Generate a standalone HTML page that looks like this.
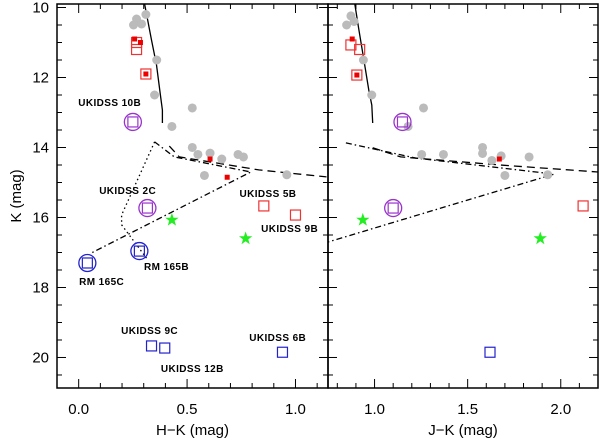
<!DOCTYPE html>
<html><head><meta charset="utf-8"><style>
body{margin:0;background:#fff}
svg text{font-family:"Liberation Sans",sans-serif}
</style></head><body>
<svg id="c" width="600" height="439" viewBox="0 0 600 439"></svg>
<script>
// ---- data: left panel (H-K vs K) ----
const hkGreyX=[0.267,0.253,0.29,0.31,0.36,0.35,0.524,0.43,0.524,0.55,0.606,0.66,0.735,0.76,0.58,0.96];
const hkGreyK=[10.33,10.5,10.47,10.2,11.5,12.5,12.87,13.4,14.0,14.2,14.16,14.33,14.2,14.27,14.8,14.78];
const hkRedSqX=[0.267,0.267,0.31,0.854,1.0];
const hkRedSqK=[11.0,11.2,11.9,15.67,15.93];
const hkRedDotX=[0.258,0.285,0.31,0.606,0.685];
const hkRedDotK=[10.9,11.0,11.9,14.33,14.85];
const hkPurX=[0.25,0.317];const hkPurK=[13.27,15.73];
const hkGreenX=[0.43,0.77];const hkGreenK=[16.07,16.6];
const hkBlueCircX=[0.04,0.28];const hkBlueCircK=[17.3,16.96];
const hkBlueSqX=[0.336,0.397,0.94];const hkBlueSqK=[19.67,19.73,19.85];
const hkSolidX=[0.304,0.336,0.359,0.377,0.386,0.386];const hkSolidK=[9.9,10.93,11.64,12.5,12.93,13.3];
const hkDashDotX=[0.35,0.441,0.794,0.06];const hkDashDotK=[13.84,14.27,14.7,17.01];
const hkDashX=[0.418,0.464,0.831,1.143];const hkDashK=[13.96,14.27,14.64,14.84];
const hkDotX=[0.35,0.198,0.198,0.313];const hkDotK=[13.84,15.93,16.21,17.16];
// ---- data: right panel (J-K vs K) ----
const jkGreyX=[0.873,0.85,0.89,0.94,0.985,1.263,1.18,1.253,1.37,1.58,1.58,1.63,1.68,1.83,1.70,1.93];
const jkGreyK=[10.24,10.5,10.4,11.5,12.5,12.87,13.4,14.2,14.2,14.0,14.17,14.37,14.24,14.27,14.8,14.78];
const jkRedSqX=[0.873,0.92,0.905,2.12];const jkRedSqK=[11.07,11.2,11.93,15.67];
const jkRedDotX=[0.88,0.905,1.67];const jkRedDotK=[10.9,11.93,14.33];
const jkPurX=[1.15,1.10];const jkPurK=[13.27,15.73];
const jkGreenX=[0.937,1.89];const jkGreenK=[16.07,16.6];
const jkBlueSqX=[1.62];const jkBlueSqK=[19.85];
const jkSolidX=[0.894,0.916,0.943,0.969,0.985,0.99];const jkSolidK=[9.9,10.64,11.5,12.36,12.79,13.3];
const jkDashX=[0.99,1.14,1.675,2.2];const jkDashK=[14.01,14.27,14.5,14.7];
const jkDashDotX=[0.846,1.22,1.964,0.75];const jkDashDotK=[13.87,14.3,14.76,16.7];
const xTicksL=[0.0,0.5,1.0];const xTickLabelsL=["0.0","0.5","1.0"];
const xTicksR=[1.0,1.5,2.0];const xTickLabelsR=["1.0","1.5","2.0"];
const yTicks=[10,12,14,16,18,20];const yTickLabels=["10","12","14","16","18","20"];
const labels=[["UKIDSS 10B",0.143,12.81],["UKIDSS 2C",0.226,15.33],["UKIDSS 5B",0.873,15.41],["UKIDSS 9B",0.973,16.41],["RM 165B",0.405,17.5],["RM 165C",0.106,17.93],["UKIDSS 9C",0.327,19.33],["UKIDSS 12B",0.524,20.41],["UKIDSS 6B",0.918,19.53]];

const NS="http://www.w3.org/2000/svg";const svg=document.getElementById('c');
function mk(t,a,p){const e=document.createElementNS(NS,t);for(const k in a)e.setAttribute(k,a[k]);(p||svg).appendChild(e);return e;}
const Y0=4,Y1=388,KMIN=9.9,KMAX=20.872;
function ys(k){return Y0+(k-KMIN)/(KMAX-KMIN)*(Y1-Y0);}
function panel(x0,x1,xmin,xmax,name){
  const xs=v=>x0+(v-xmin)/(xmax-xmin)*(x1-x0);
  const g=mk('g',{});
  return {g,xs};
}
const L=panel(57,328,-0.1,1.15,'left-panel');
const R=panel(328,598,0.75,2.2,'right-panel');
function line(P,X,K,dash,name){
  const d=X.map((v,i)=>(i?'L':'M')+P.xs(v).toFixed(1)+' '+ys(K[i]).toFixed(1)).join('');
  const e=mk('path',{d,fill:'none',stroke:'#000','stroke-width':1.3,'stroke-dasharray':dash||'none'},P.g);
  
}
function grey(P,X,K,n){X.forEach((v,i)=>{const e=mk('circle',{cx:P.xs(v),cy:ys(K[i]),r:4.5,fill:'#bbb'},P.g);});}
function sq(P,X,K,col,n,s){X.forEach((v,i)=>{const e=mk('rect',{x:P.xs(v)-(s||5),y:ys(K[i])-(s||5),width:2*(s||5),height:2*(s||5),fill:'none',stroke:col,'stroke-width':1.2},P.g);});}
function dot(P,X,K,n){X.forEach((v,i)=>{const e=mk('rect',{x:P.xs(v)-2.5,y:ys(K[i])-2.5,width:5,height:5,fill:'#e00'},P.g);});}
function circ(P,X,K,col,n){X.forEach((v,i)=>{const e=mk('circle',{cx:P.xs(v),cy:ys(K[i]),r:8.5,fill:'none',stroke:col,'stroke-width':1.3},P.g);});sq(P,X,K,col,n+'-square',5);}
function star(P,X,K,n){X.forEach((v,i)=>{const cx=P.xs(v),cy=ys(K[i]);let pts=[];for(let j=0;j<10;j++){const r=j%2?2.8:7,a=-Math.PI/2+j*Math.PI/5;pts.push((cx+r*Math.cos(a)).toFixed(1)+','+(cy+r*Math.sin(a)).toFixed(1));}const e=mk('polygon',{points:pts.join(' '),fill:'#2e2'},P.g);});}

// left
line(L,hkSolidX,hkSolidK,null,'isochrone-solid');
line(L,hkDashX,hkDashK,'8 5','track-dashed');
line(L,hkDashDotX,hkDashDotK,'6 3 1.5 3','track-dash-dot');
line(L,hkDotX,hkDotK,'1.5 3','track-dotted');
grey(L,hkGreyX,hkGreyK,'grey-star');
sq(L,hkRedSqX,hkRedSqK,'#e33','red-square');
dot(L,hkRedDotX,hkRedDotK,'red-filled');
circ(L,hkPurX,hkPurK,'#93c','purple-circled');
star(L,hkGreenX,hkGreenK,'green-star');
circ(L,hkBlueCircX,hkBlueCircK,'#22c','blue-circled');
sq(L,hkBlueSqX,hkBlueSqK,'#22c','blue-square');
labels.forEach(l=>{const t=mk('text',{x:L.xs(l[1]),y:ys(l[2]),'font-size':10,'font-weight':'bold','text-anchor':'middle','letter-spacing':'0.4'},L.g);t.textContent=l[0];});
// right
line(R,jkSolidX,jkSolidK,null,'isochrone-solid');
line(R,jkDashX,jkDashK,'8 5','track-dashed');
line(R,jkDashDotX,jkDashDotK,'6 3 1.5 3','track-dash-dot');
grey(R,jkGreyX,jkGreyK,'grey-star');
sq(R,jkRedSqX,jkRedSqK,'#e33','red-square');
dot(R,jkRedDotX,jkRedDotK,'red-filled');
circ(R,jkPurX,jkPurK,'#93c','purple-circled');
star(R,jkGreenX,jkGreenK,'green-star');
sq(R,jkBlueSqX,jkBlueSqK,'#22c','blue-square');

// axes
function axes(P,x0,x1,xmin,xmax,ticks,tl,title){
  mk('rect',{x:x0,y:Y0,width:x1-x0,height:Y1-Y0,fill:'none',stroke:'#000','stroke-width':1.5});
  for(let v=Math.ceil(xmin*10)/10;v<=xmax+1e-9;v+=0.1){const px=P.xs(v);const maj=ticks.some(t=>Math.abs(t-v)<1e-6);const l=maj?9:5;
    mk('line',{x1:px,x2:px,y1:Y1,y2:Y1-l,stroke:'#000'});mk('line',{x1:px,x2:px,y1:Y0,y2:Y0+l,stroke:'#000'});}
  ticks.forEach((v,i)=>{const t=mk('text',{x:P.xs(v),y:414,'font-size':15,'text-anchor':'middle'});t.textContent=tl[i];});
  const t=mk('text',{x:(x0+x1)/2,y:435,'font-size':15,'text-anchor':'middle'});t.textContent=title;
  for(let k=10;k<=20.5;k+=0.5){const py=ys(k);const l=(k%2===0)?9:5;mk('line',{x1:x0,x2:x0+l,y1:py,y2:py,stroke:'#000'});mk('line',{x1:x1,x2:x1-l,y1:py,y2:py,stroke:'#000'});}
}
axes(L,57,328,-0.1,1.15,xTicksL,xTickLabelsL,'H−K (mag)');
axes(R,328,598,0.75,2.2,xTicksR,xTickLabelsR,'J−K (mag)');
yTicks.forEach((v,i)=>{const t=mk('text',{x:49,y:ys(v)+5,'font-size':15,'text-anchor':'end'});t.textContent=yTickLabels[i];});
const yt=mk('text',{x:0,y:0,'font-size':15,'text-anchor':'middle',transform:'translate(21,196) rotate(-90)'});yt.textContent='K (mag)';


</script>
</body></html>
